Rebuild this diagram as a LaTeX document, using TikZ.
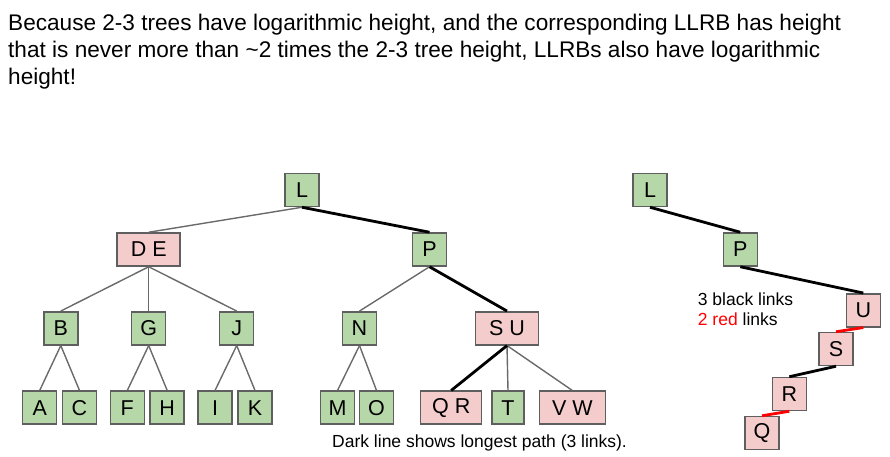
\documentclass[tikz,border=0pt]{standalone}
\usepackage{fontspec}
\setmainfont{Liberation Sans}
\definecolor{nodegreen}{HTML}{B6D7A8}
\definecolor{nodepink}{HTML}{F4CCCC}
\definecolor{bordergray}{HTML}{5F5F5F}
\definecolor{edgegray}{HTML}{6A6A6A}
\definecolor{linkred}{HTML}{FF0000}
\begin{document}
\begin{tikzpicture}[x=1pt,y=-1pt,
  box/.style={draw=bordergray, line width=1.5pt, inner sep=0pt, minimum height=33pt,
    minimum width=34pt, font=\fontsize{21.5}{25}\selectfont},
  gbox/.style={box, fill=nodegreen},
  pbox/.style={box, fill=nodepink},
  wide/.style={minimum width=63pt},
  thinedge/.style={draw=edgegray, line width=1.4pt},
  boldedge/.style={draw=black, line width=2.8pt},
  rededge/.style={draw=linkred, line width=2.8pt},
  title/.style={anchor=base west, inner sep=0pt, font=\fontsize{22.6}{27}\selectfont},
  note/.style={anchor=base west, inner sep=0pt, font=\fontsize{17.5}{21}\selectfont}]
\useasboundingbox (0,0) rectangle (890,457);
% title
\node[title] (t1) at (8,31) {Because 2-3 trees have logarithmic height, and the corresponding LLRB has height};
\node[title] (t2) at (8,58) {that is never more than \textasciitilde2 times the 2-3 tree height, LLRBs also have logarithmic};
\node[title] (t3) at (8,84.5) {height!};
% left 2-3 tree
\node[gbox] (L) at (302,190) {L};
\node[pbox, wide] (DE) at (148.7,249.5) {D E};
\node[gbox] (P) at (429.5,249.5) {P};
\node[gbox] (B) at (60.8,328.3) {B};
\node[gbox] (G) at (148.7,328.3) {G};
\node[gbox] (J) at (236.7,328.3) {J};
\node[gbox] (N) at (359.5,328.3) {N};
\node[pbox, wide] (SU) at (507,328.3) {S U};
\node[gbox] (A) at (39.7,407.7) {A};
\node[gbox] (C) at (79.5,407.7) {C};
\node[gbox] (F) at (127.3,407.7) {F};
\node[gbox] (H) at (167.2,407.7) {H};
\node[gbox] (I) at (215,407.7) {I};
\node[gbox] (K) at (255,407.7) {K};
\node[gbox] (M) at (337.5,407.7) {M};
\node[gbox] (O) at (376.5,407.7) {O};
\node[pbox, wide, minimum width=61pt] (QR) at (451.2,407.7) {Q R};
\node[gbox, minimum width=32pt] (T) at (508,407.7) {T};
\node[pbox, wide, minimum width=66pt] (VW) at (572.3,407.7) {V W};
\draw[thinedge] (L.south) -- (DE.north);
\draw[thinedge] (DE.south) -- (B.north);
\draw[thinedge] (DE.south) -- (G.north);
\draw[thinedge] (DE.south) -- (J.north);
\draw[thinedge] (B.south) -- (A.north);
\draw[thinedge] (B.south) -- (C.north);
\draw[thinedge] (G.south) -- (F.north);
\draw[thinedge] (G.south) -- (H.north);
\draw[thinedge] (J.south) -- (I.north);
\draw[thinedge] (J.south) -- (K.north);
\draw[thinedge] (P.south) -- (N.north);
\draw[thinedge] (N.south) -- (M.north);
\draw[thinedge] (N.south) -- (O.north);
\draw[thinedge] (SU.south) -- (T.north);
\draw[thinedge] (SU.south) -- (VW.north);
\draw[boldedge] (L.south) -- (P.north);
\draw[boldedge] (P.south) -- (SU.north);
\draw[boldedge] (SU.south) -- (QR.north);
\node[note] (cap) at (332,447) {Dark line shows longest path (3 links).};
% right LLRB
\node[gbox] (L2) at (650,190) {L};
\node[gbox] (P2) at (740.3,249.5) {P};
\node[pbox] (U2) at (863.3,310.3) {U};
\node[pbox] (S2) at (836,349) {S};
\node[pbox] (R2) at (789.3,394) {R};
\node[pbox] (Q2) at (762,433) {Q};
\draw[boldedge] (L2.south) -- (P2.north);
\draw[boldedge] (P2.south) -- (U2.north);
\draw[rededge] (U2.south) -- (S2.north);
\draw[boldedge] (S2.south) -- (R2.north);
\draw[rededge] (R2.south) -- (Q2.north);
\node[note] (nb) at (697.7,305.5) {3 black links};
\node[note] (nr) at (697.7,325.5) {\textcolor{linkred}{2 red} links};
\end{tikzpicture}
\end{document}
